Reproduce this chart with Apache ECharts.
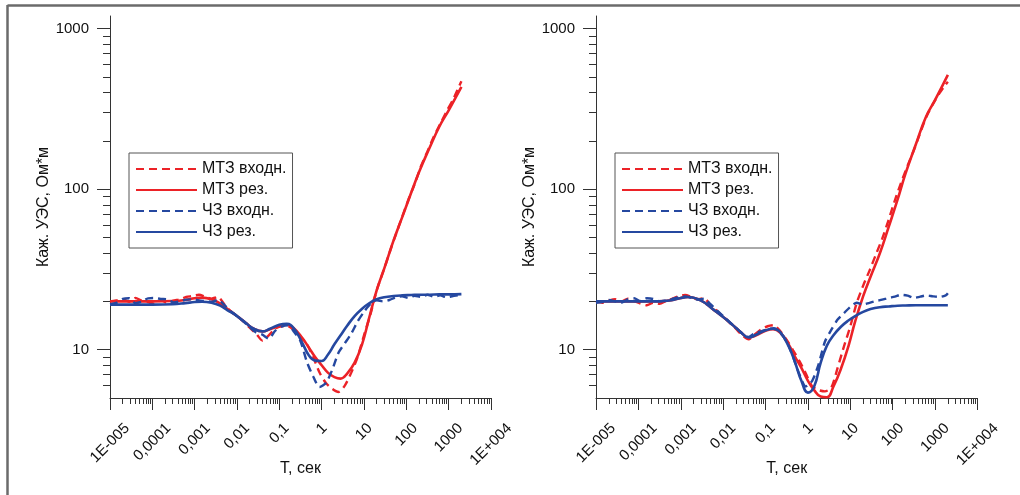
<!DOCTYPE html>
<html><head><meta charset="utf-8">
<script src="https://cdn.jsdelivr.net/npm/echarts@6/dist/echarts.min.js"></script>
<style>html,body{margin:0;padding:0;background:#fff}#c{width:1020px;height:495px}</style>
</head><body><div id="c"></div>
<script>
// ---- tick labels ----
const xTickExponents = [-5, -4, -3, -2, -1, 0, 1, 2, 3, 4];
const xTickLabels = ['1E-005', '0,0001', '0,001', '0,01', '0,1', '1', '10', '100', '1000', '1E+004'];
const yTickValues = [10, 100, 1000];
const yTickLabels = ['10', '100', '1000'];
const yMinorTicks = [6, 7, 8, 9, 20, 30, 40, 50, 60, 70, 80, 90, 200, 300, 400, 500, 600, 700, 800, 900];
const xMinorMantissas = [2, 3, 4, 5, 6, 7, 8, 9];
const xRange = [1e-5, 1e4];
const yRange = [5, 1200];

const seriesNames = ['МТЗ входн.', 'МТЗ рез.', 'ЧЗ входн.', 'ЧЗ рез.'];

// ---- periods (s) ----
const periodsFit = [1e-5, 3e-5, 1e-4, 3e-4, 6e-4, 1e-3, 1.5e-3, 2.5e-3, 4e-3, 6e-3,
  0.01, 0.016, 0.025, 0.04, 0.06, 0.1, 0.15, 0.22, 0.35, 0.5,
  0.7, 1, 1.4, 2, 2.8, 4, 6, 9, 13, 20,
  30, 50, 80, 130, 200, 350, 600, 1000, 2000];
const periodsIn = [1e-5, 1.41e-5, 2e-5, 2.82e-5, 3.98e-5, 5.62e-5, 7.94e-5, 1.12e-4, 1.58e-4, 2.24e-4,
  3.16e-4, 4.47e-4, 6.31e-4, 8.91e-4, 1.26e-3, 1.78e-3, 2.51e-3, 3.55e-3, 5.01e-3, 7.08e-3,
  0.01, 0.0141, 0.02, 0.0282, 0.0398, 0.0562, 0.0794, 0.112, 0.158, 0.224,
  0.316, 0.447, 0.631, 0.891, 1.26, 1.78, 2.51, 3.55, 5.01, 7.08,
  10, 14.1, 20, 28.2, 39.8, 56.2, 79.4, 112, 158, 224,
  316, 447, 631, 891, 1260, 1780, 2000];

// ---- left panel ----
const leftMtzIn = [20.0, 20.3, 20.6, 19.9, 21.0, 20.2, 19.8, 19.3, 20.3, 19.6,
  20.2, 20.6, 21.3, 21.6, 22.0, 21.4, 20.8, 21.3, 19.2, 17.4,
  16.2, 15.0, 13.7, 12.6, 11.4, 12.3, 13.5, 14.0, 14.0, 13.2,
  12.0, 10.8, 9.0, 7.2, 6.2, 5.7, 5.45, 6.0, 7.2, 9.0,
  12.3, 16.5, 23.5, 30.5, 40, 52, 67, 86, 108, 140,
  172, 213, 255, 305, 360, 440, 470];
const leftMtzFit = [20.0, 20.0, 20.0, 20.1, 20.4, 20.9, 21.1, 20.6, 19.4, 17.9,
  16.2, 14.7, 13.5, 13.0, 13.4, 14.0, 14.3, 13.6, 11.8, 10.3,
  9.0, 8.0, 7.2, 6.75, 6.6, 7.1, 8.3, 10.8, 15.5, 23.5,
  32, 48, 67, 95, 128, 180, 245, 310, 434];
const leftCzIn = [19.2, 19.6, 20.7, 20.9, 19.5, 19.9, 20.9, 21.0, 20.7, 20.6,
  19.7, 20.0, 20.5, 20.6, 20.3, 20.1, 19.9, 20.4, 19.0, 17.4,
  16.2, 15.0, 13.8, 12.8, 12.4, 11.7, 13.1, 13.9, 14.2, 12.9,
  11.3, 8.4, 6.8, 5.85, 6.2, 7.5, 9.6, 11.0, 12.6, 15.0,
  17.2, 19.2, 20.3, 20.0, 20.4, 21.2, 21.5, 21.0, 21.7, 21.3,
  22.0, 21.4, 21.8, 21.2, 21.6, 21.9, 22.1];
const leftCzFit = [19.1, 19.1, 19.1, 19.2, 19.5, 19.8, 19.9, 19.6, 18.8, 17.6,
  16.2, 14.7, 13.5, 13.0, 13.5, 14.3, 14.5, 13.6, 11.0, 9.2,
  8.55, 8.5, 9.3, 10.8, 12.3, 14.1, 16.2, 18.0, 19.4, 20.6,
  21.2, 21.6, 21.8, 21.9, 22.0, 22.0, 22.1, 22.1, 22.2];

// ---- right panel ----
const rightMtzIn = [20.0, 19.6, 20.2, 20.6, 20.0, 20.8, 20.1, 19.4, 18.9, 19.6,
  19.3, 20.1, 20.8, 21.5, 21.9, 21.3, 20.6, 20.9, 19.0, 17.5,
  16.1, 14.8, 13.5, 12.3, 11.6, 12.5, 13.4, 14.0, 14.2, 13.0,
  11.5, 9.9, 8.5, 7.1, 5.9, 5.6, 5.5, 5.8, 7.7, 10.5,
  14.0, 19.5, 25.0, 31, 39, 49, 64, 85, 110, 140,
  175, 225, 285, 340, 395, 450, 468];
const rightMtzFit = [20.0, 20.0, 20.0, 20.0, 20.3, 21.0, 21.3, 20.7, 19.3, 17.7,
  16.0, 14.4, 13.0, 11.9, 12.3, 13.1, 13.4, 12.8, 10.8, 9.0,
  7.7, 6.4, 5.6, 5.1, 5.05, 5.9, 7.6, 10.5, 15.0, 21.5,
  28.5, 40, 58, 86, 125, 190, 280, 360, 516];
const rightCzIn = [19.6, 19.8, 20.4, 20.0, 19.6, 20.6, 20.9, 20.1, 20.9, 20.7,
  20.0, 20.3, 20.7, 21.2, 21.5, 21.0, 20.5, 20.8, 19.2, 17.6,
  16.2, 14.9, 13.7, 12.6, 12.0, 12.7, 13.0, 13.4, 13.6, 12.7,
  11.2, 9.0, 7.0, 5.9, 6.4, 8.1, 11.2, 13.3, 15.4, 16.9,
  18.5, 19.6, 19.1, 19.6, 20.1, 20.5, 21.0, 21.4, 22.0, 21.7,
  21.0, 21.4, 21.8, 21.5, 21.3, 21.8, 22.5];
const rightCzFit = [20.0, 20.0, 20.0, 20.0, 20.3, 21.0, 21.3, 20.7, 19.3, 17.7,
  16.0, 14.4, 13.0, 11.9, 12.4, 13.2, 13.5, 12.9, 10.5, 8.3,
  6.4, 5.4, 5.9, 8.3, 10.6, 12.3, 13.9, 15.2, 16.2, 17.2,
  17.9, 18.4, 18.6, 18.8, 18.85, 18.9, 18.9, 18.9, 18.9];

// ---- styling ----
const FONT = '"Liberation Sans", Arial, Helvetica, sans-serif';
const RED = '#ec2227';
const BLUE = '#2548a0';
const AXIS = '#333';
const TXT = '#111';
const lg = Math.log10;

const xMinorLog = [];
for (let e = -5; e < 4; e++) xMinorMantissas.forEach(function (m) { xMinorLog.push(lg(m) + e); });
const yMinorLog = yMinorTicks.map(lg);
const yMajorLog = yTickValues.map(lg);

// measure labels so each rotated label is centred below its tick
const ctx = document.createElement('canvas').getContext('2d');
ctx.font = '15px ' + FONT;
const xRich = {};
xTickLabels.forEach(function (t, i) {
  const w = ctx.measureText(t).width;
  xRich['x' + i] = { fontSize: 15, fontFamily: FONT, color: TXT, padding: [w / 2, w / 2, 0, 0] };
});

function pairs(periods, vals) {
  return periods.map(function (t, i) { return [lg(t), lg(vals[i])]; });
}

const grids = [
  { left: 110, top: 16, width: 381, height: 382, containLabel: false, outerBoundsMode: 'none' },
  { left: 596, top: 16, width: 381.5, height: 382, containLabel: false, outerBoundsMode: 'none' }
];

const xAxes = [], yAxes = [];
[0, 1].forEach(function (g) {
  xAxes.push({
    type: 'value', gridIndex: g, position: 'bottom', min: lg(xRange[0]), max: lg(xRange[1]), interval: 1,
    axisLine: { show: true, onZero: false, lineStyle: { color: AXIS, width: 1 } },
    axisTick: { show: true, length: 12, inside: false, lineStyle: { color: AXIS, width: 1 } },
    splitLine: { show: false },
    axisLabel: {
      show: true, rotate: 45, align: 'center', verticalAlign: 'middle', margin: 28,
      fontSize: 15, fontFamily: FONT, color: TXT, rich: xRich,
      formatter: function (v) {
        const i = xTickExponents.indexOf(Math.round(v));
        return '{x' + i + '|' + xTickLabels[i] + '}';
      }
    },
    name: 'T, сек', nameLocation: 'middle', nameGap: 63, nameMoveOverlap: false,
    nameTextStyle: { fontSize: 16, fontFamily: FONT, color: TXT }
  });
  xAxes.push({
    type: 'value', gridIndex: g, position: 'bottom', min: lg(xRange[0]), max: lg(xRange[1]),
    axisLine: { show: false, onZero: false }, splitLine: { show: false }, axisLabel: { show: false },
    axisTick: { show: true, length: 6, customValues: xMinorLog, lineStyle: { color: AXIS, width: 1 } }
  });
  yAxes.push({
    type: 'value', gridIndex: g, position: 'left', min: lg(yRange[0]), max: lg(yRange[1]),
    axisLine: { show: true, onZero: false, lineStyle: { color: AXIS, width: 1 } },
    axisTick: { show: true, length: 13, customValues: yMajorLog, lineStyle: { color: AXIS, width: 1 } },
    splitLine: { show: false },
    axisLabel: {
      show: true, customValues: yMajorLog, margin: 21, fontSize: 15, fontFamily: FONT, color: TXT,
      formatter: function (v) {
        let best = 0;
        yMajorLog.forEach(function (m, i) { if (Math.abs(m - v) < Math.abs(yMajorLog[best] - v)) best = i; });
        return yTickLabels[best];
      }
    },
    name: 'Каж. УЭС, Ом*м', nameLocation: 'middle', nameGap: 58, nameMoveOverlap: false,
    nameTextStyle: { fontSize: 16, fontFamily: FONT, color: TXT }
  });
  yAxes.push({
    type: 'value', gridIndex: g, position: 'left', min: lg(yRange[0]), max: lg(yRange[1]),
    axisLine: { show: false, onZero: false }, splitLine: { show: false }, axisLabel: { show: false },
    axisTick: { show: true, length: 7, customValues: yMinorLog, lineStyle: { color: AXIS, width: 1 } }
  });
});

const panels = [
  [leftMtzIn, leftMtzFit, leftCzIn, leftCzFit],
  [rightMtzIn, rightMtzFit, rightCzIn, rightCzFit]
];
const series = [];
panels.forEach(function (p, g) {
  p.forEach(function (vals, k) {
    const isIn = (k % 2 === 0);
    series.push({
      type: 'line', name: seriesNames[k], xAxisIndex: 2 * g, yAxisIndex: 2 * g,
      data: pairs(isIn ? periodsIn : periodsFit, vals),
      symbol: 'none', showSymbol: false, smooth: isIn ? 0.25 : 0.45,
      lineStyle: { color: k < 2 ? RED : BLUE, width: isIn ? 2.4 : 2.6, type: isIn ? [8, 5] : 'solid' },
      itemStyle: { color: k < 2 ? RED : BLUE },
      emphasis: { disabled: true }, silent: true, animation: false, z: 2 + k
    });
  });
});

function legend(left) {
  return {
    left: left, top: 153, orient: 'vertical', data: seriesNames, selectedMode: false,
    itemWidth: 61, itemHeight: 14, itemGap: 5, padding: [8, 6, 8, 6],
    borderColor: '#555', borderWidth: 1, backgroundColor: '#fff',
    itemStyle: { opacity: 0 },
    textStyle: { fontSize: 16, fontFamily: FONT, color: TXT }
  };
}

const chart = echarts.init(document.getElementById('c'), null, { renderer: 'canvas' });
chart.setOption({
  backgroundColor: '#fff',
  animation: false,
  grid: grids,
  xAxis: xAxes,
  yAxis: yAxes,
  legend: [legend(129), legend(615)],
  series: series,
  graphic: [
    { type: 'line', shape: { x1: 7.5, y1: 5.5, x2: 1020, y2: 5.5 }, style: { stroke: '#6b6b6b', lineWidth: 2.5 }, silent: true },
    { type: 'line', shape: { x1: 7.5, y1: 5, x2: 7.5, y2: 495 }, style: { stroke: '#6b6b6b', lineWidth: 2.5 }, silent: true }
  ]
});
</script></body></html>
